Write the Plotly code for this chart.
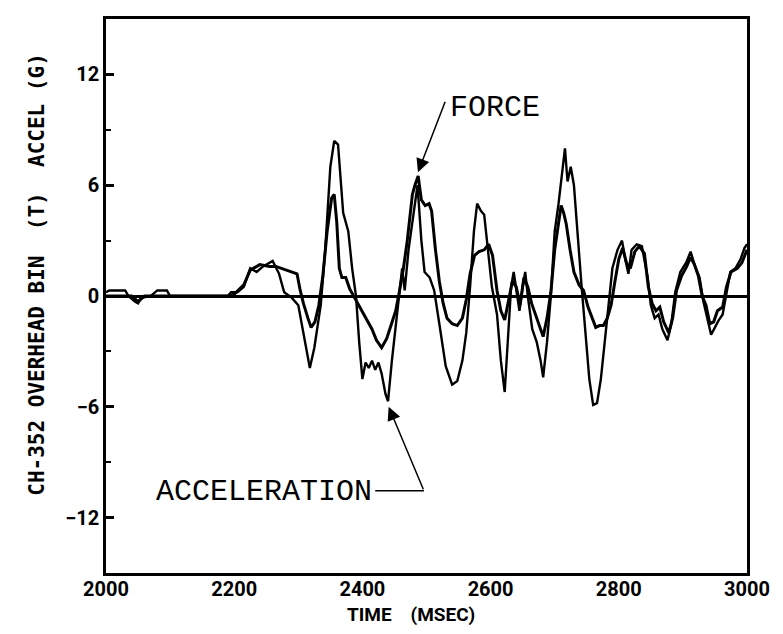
import plotly.graph_objects as go

# time (msec) and readings (G)
accel_t = [2000, 2005, 2030, 2035, 2045, 2050, 2055, 2070, 2080, 2095, 2100, 2190, 2195, 2205,
           2215, 2225, 2235, 2245, 2260, 2270, 2278, 2290, 2300, 2310, 2318, 2325, 2335, 2342,
           2350, 2356, 2362, 2370, 2378, 2384, 2390, 2395, 2400, 2405, 2410, 2415, 2420, 2425,
           2430, 2436, 2440, 2446, 2452, 2458, 2462, 2466, 2472, 2480, 2486, 2492, 2497, 2505,
           2512, 2520, 2530, 2540, 2548, 2556, 2562, 2568, 2574, 2579, 2585, 2590, 2596, 2602,
           2610, 2616, 2622, 2627, 2632, 2636, 2640, 2645, 2650, 2654, 2658, 2665, 2672, 2678,
           2682, 2688, 2694, 2700, 2706, 2712, 2716, 2720, 2725, 2730, 2736, 2742, 2748, 2754,
           2760, 2766, 2772, 2778, 2784, 2790, 2798, 2805, 2810, 2815, 2820, 2828, 2836, 2845,
           2850, 2856, 2862, 2868, 2876, 2882, 2888, 2896, 2905, 2912, 2920, 2926, 2932, 2938,
           2944, 2950, 2956, 2962, 2968, 2974, 2982, 2990, 2996, 3000]
accel_g = [0.2, 0.3, 0.3, 0.0, -0.3, -0.4, -0.1, 0.0, 0.3, 0.3, 0.0, 0.0, 0.2, 0.2,
           0.5, 1.5, 1.3, 1.6, 1.9, 1.2, 0.2, -0.1, -0.5, -2.5, -3.9, -2.8, -0.5, 2.5,
           7.0, 8.4, 8.2, 4.5, 3.5, 1.5, 0.0, -2.5, -4.5, -3.6, -3.9, -3.5, -4.0, -3.6,
           -4.2, -5.3, -5.7, -3.5, -1.5, 0.5, 1.5, 0.3, 2.5, 4.5, 6.0, 3.0, 1.3, 1.0,
           0.3, -1.5, -3.8, -4.8, -4.6, -3.5, -2.0, 0.5, 3.5, 5.0, 4.6, 4.4, 2.5, 0.5,
           -1.0, -3.5, -5.2, -2.0, 0.5, 1.3, 0.3, -0.8, 0.5, 1.3, 0.0, -1.8, -2.5, -3.5,
           -4.4, -2.5, 0.0, 3.5, 5.0, 7.0, 8.0, 6.2, 7.0, 6.0, 3.0, 0.5, -2.0, -4.5,
           -5.9, -5.8, -4.5, -2.5, -0.5, 1.5, 2.5, 3.0, 2.0, 1.2, 2.5, 2.8, 2.7, 1.0,
           -0.5, -1.2, -1.0, -1.8, -2.4, -1.5, 0.2, 1.3, 1.8, 2.4, 1.5, 1.0, -0.3, -1.2,
           -2.1, -1.7, -1.3, -1.0, 0.2, 1.3, 1.5, 2.0, 2.6, 2.8]

force_t = [2000, 2040, 2050, 2060, 2190, 2200, 2215, 2225, 2240, 2255, 2265, 2280, 2290, 2298,
           2303, 2308, 2315, 2320, 2326, 2332, 2338, 2345, 2352, 2356, 2360, 2364, 2368, 2374,
           2380, 2388, 2395, 2405, 2415, 2422, 2430, 2438, 2445, 2452, 2458, 2464, 2470, 2478,
           2482, 2487, 2492, 2498, 2504, 2508, 2514, 2520, 2526, 2532, 2540, 2548, 2556, 2562,
           2568, 2575, 2582, 2590, 2597, 2603, 2610, 2616, 2622, 2628, 2634, 2640, 2646, 2652,
           2658, 2664, 2670, 2676, 2682, 2688, 2694, 2700, 2706, 2710, 2714, 2718, 2724, 2730,
           2738, 2745, 2752, 2758, 2764, 2770, 2776, 2782, 2788, 2794, 2800, 2806, 2812, 2818,
           2825, 2832, 2840, 2846, 2852, 2858, 2864, 2870, 2878, 2884, 2890, 2898, 2906, 2912,
           2918, 2924, 2930, 2936, 2942, 2948, 2954, 2962, 2968, 2975, 2985, 2992, 3000]
force_g = [0.0, 0.0, -0.3, 0.0, 0.0, 0.1, 0.6, 1.4, 1.7, 1.6, 1.6, 1.4, 1.3, 1.2,
           0.3, -0.4, -1.2, -1.7, -1.4, -0.5, 1.0, 3.5, 5.3, 5.5, 4.0, 1.5, 1.0, 1.0,
           0.4, -0.1, -0.5, -1.2, -1.8, -2.4, -2.8, -2.3, -1.5, -0.8, 0.3, 1.5, 3.0, 5.5,
           6.0, 6.5, 5.2, 4.9, 5.0, 4.6, 2.5, 0.8, -0.4, -1.2, -1.5, -1.6, -1.2, -0.2,
           1.2, 2.2, 2.4, 2.5, 2.8, 2.2, 0.3, -0.8, -1.3, -0.3, 0.8, 0.5, -0.5, 1.0,
           0.5, -0.4, -1.0, -1.6, -2.2, -1.2, 0.2, 2.5, 4.0, 4.9, 4.5, 3.9, 2.5, 1.3,
           0.6, 0.3, -0.6, -1.2, -1.7, -1.6, -1.6, -1.2, -0.5, 0.8, 2.0, 2.6, 1.8, 1.5,
           2.4, 2.7, 2.3, 0.5, -0.4, -0.8, -0.6, -1.4, -2.0, -1.2, 0.3, 1.1, 1.6, 2.1,
           1.7, 1.1, 0.0, -0.5, -1.5, -1.4, -0.8, -0.6, 0.5, 1.3, 1.5, 1.8, 2.5]

x_ticks = [2000, 2200, 2400, 2600, 2800, 3000]
y_ticks = [-12, -6, 0, 6, 12]

tick_font = dict(family="Roboto", size=20, color="black", weight="bold")

fig = go.Figure()
fig.add_trace(go.Scatter(x=accel_t, y=accel_g, mode="lines", name="ACCELERATION",
                         line=dict(color="black", width=2.4)))
fig.add_trace(go.Scatter(x=force_t, y=force_g, mode="lines", name="FORCE",
                         line=dict(color="black", width=3.0)))

# arrow labels
fig.add_annotation(x=2486.7, y=6.7, ax=2530, ay=10.6, axref="x", ayref="y",
                   text="", showarrow=True, arrowhead=2, arrowsize=1.8, arrowwidth=1.5,
                   arrowcolor="black")
fig.add_annotation(x=2533, y=10.2, text="FORCE", showarrow=False, xanchor="left",
                   font=dict(family="Liberation Mono", size=30, color="black"))
fig.add_annotation(x=2441, y=-6.0, ax=2496, ay=-10.55, axref="x", ayref="y",
                   text="", showarrow=True, arrowhead=2, arrowsize=1.8, arrowwidth=1.5,
                   arrowcolor="black")
fig.add_shape(type="line", x0=2420, x1=2496, y0=-10.55, y1=-10.55,
              line=dict(color="black", width=1.5))
fig.add_annotation(x=2418, y=-10.6, text="ACCELERATION", showarrow=False, xanchor="right",
                   font=dict(family="Liberation Mono", size=30, color="black"))

# axis titles
fig.add_annotation(x=0.476, y=-0.05, xref="paper", yref="paper", showarrow=False,
                   yanchor="top", text="TIME\u00a0\u00a0\u00a0\u00a0(MSEC)",
                   font=dict(family="Roboto", size=19, color="black", weight="bold"))
fig.add_annotation(x=-0.129, y=0.539, xref="paper", yref="paper", showarrow=False,
                   textangle=-90,
                   text="CH-352 OVERHEAD BIN\u00a0\u00a0(T)\u00a0\u00a0ACCEL (G)",
                   font=dict(family="DejaVu Sans Mono", size=21, color="black", weight="bold"))

fig.update_layout(
    width=783, height=634,
    margin=dict(l=98, r=44, t=8, b=69),
    paper_bgcolor="white", plot_bgcolor="white",
    showlegend=False,
    xaxis=dict(range=[2000, 3000], tickvals=x_ticks, ticks="", ticklabelstandoff=-4,
               tickfont=tick_font, showgrid=False, zeroline=False,
               showline=True, linecolor="black", linewidth=2.5, mirror=True),
    yaxis=dict(range=[-15, 15], tickvals=y_ticks, ticks="inside", ticklen=8, tickwidth=2.5,
               tickcolor="black", tickfont=tick_font, showgrid=False,
               minor=dict(dtick=3, ticks="inside", ticklen=5, tickwidth=2, tickcolor="black"),
               zeroline=True, zerolinecolor="black", zerolinewidth=2.5,
               showline=True, linecolor="black", linewidth=2.5, mirror=True),
)

fig.write_html("out.html")
